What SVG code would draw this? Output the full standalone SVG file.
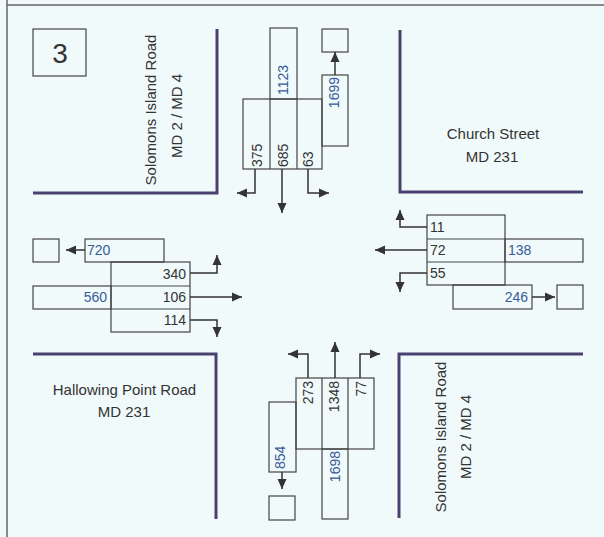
<svg xmlns="http://www.w3.org/2000/svg" width="604" height="537" viewBox="0 0 604 537">
<defs>
<style>
.bx{fill:none;stroke:#444;stroke-width:1.2}
.rd{fill:none;stroke:#4a4070;stroke-width:3}
.ar{fill:none;stroke:#333;stroke-width:1.5;marker-end:url(#ah)}
.t{font-family:"Liberation Sans",Arial,sans-serif;font-size:14px;fill:#333}
.b{fill:#3a5a9c}
.lb{font-family:"Liberation Sans",Arial,sans-serif;font-size:15px;fill:#333;text-anchor:middle}
.e{text-anchor:end}
</style>
<marker id="ah" markerUnits="userSpaceOnUse" markerWidth="10" markerHeight="10" viewBox="0 0 10 10" refX="10" refY="5" orient="auto">
<path d="M0,0.5 L10,5 L0,9.5 z" fill="#333"/>
</marker>
</defs>
<rect width="604" height="537" fill="#f0fafa"/>
<g id="frame">
<line x1="7" y1="5" x2="604" y2="5" stroke="#666" stroke-width="1.5"/>
<line x1="7" y1="0" x2="7" y2="537" stroke="#666" stroke-width="1.5"/>
</g>
<g id="number">
<rect x="33" y="29" width="53" height="47" class="bx"/>
<text x="60" y="63" font-family="Liberation Sans,Arial,sans-serif" font-size="28" fill="#333" text-anchor="middle">3</text>
</g>
<g id="roads">
<polyline class="rd" points="217,29 217,193 33,193"/>
<polyline class="rd" points="400,30 400,192 583,192"/>
<polyline class="rd" points="33,354 216,354 216,519"/>
<polyline class="rd" points="399,518 399,354 583,354"/>
</g>
<g id="labels">
<text class="lb" transform="translate(156,110) rotate(-90)">Solomons Island Road</text>
<text class="lb" transform="translate(182,116) rotate(-90)">MD 2 / MD 4</text>
<text class="lb" x="493" y="139">Church Street</text>
<text class="lb" x="492" y="162">MD 231</text>
<text class="lb" x="124.5" y="395">Hallowing Point Road</text>
<text class="lb" x="124" y="417">MD 231</text>
<text class="lb" transform="translate(446,437) rotate(-90)">Solomons Island Road</text>
<text class="lb" transform="translate(471,437) rotate(-90)">MD 2 / MD 4</text>
</g>
<g id="north">
<rect x="270" y="28" width="27" height="71" class="bx"/>
<rect x="243" y="99" width="79" height="70" class="bx"/>
<line x1="270" y1="99" x2="270" y2="169" class="bx"/>
<line x1="297" y1="99" x2="297" y2="169" class="bx"/>
<rect x="322" y="75" width="26" height="71" class="bx"/>
<rect x="322" y="29" width="26" height="23" class="bx"/>
<text class="t b" transform="translate(288,95) rotate(-90)">1123</text>
<text class="t b e" transform="translate(339,77) rotate(-90)">1699</text>
<text class="t" transform="translate(262,167) rotate(-90)">375</text>
<text class="t" transform="translate(288,167) rotate(-90)">685</text>
<text class="t" transform="translate(313,167) rotate(-90)">63</text>
</g>
<g id="west">
<rect x="85" y="239" width="79" height="23" class="bx"/>
<rect x="33" y="239" width="26" height="23" class="bx"/>
<rect x="111" y="262" width="79" height="70" class="bx"/>
<line x1="111" y1="286" x2="190" y2="286" class="bx"/>
<line x1="111" y1="309" x2="190" y2="309" class="bx"/>
<rect x="33" y="286" width="78" height="23" class="bx"/>
<text class="t b" x="87" y="255">720</text>
<text class="t e" x="186" y="279">340</text>
<text class="t b e" x="107" y="302">560</text>
<text class="t e" x="186" y="302">106</text>
<text class="t e" x="186" y="325">114</text>
</g>
<g id="east">
<rect x="427" y="215" width="78" height="70" class="bx"/>
<line x1="427" y1="239" x2="505" y2="239" class="bx"/>
<line x1="427" y1="262" x2="505" y2="262" class="bx"/>
<rect x="505" y="239" width="78" height="23" class="bx"/>
<rect x="453" y="285" width="79" height="24" class="bx"/>
<rect x="557" y="285" width="26" height="24" class="bx"/>
<text class="t" x="430" y="232">11</text>
<text class="t" x="430" y="255">72</text>
<text class="t" x="430" y="278">55</text>
<text class="t b" x="508" y="255">138</text>
<text class="t b e" x="528" y="302">246</text>
</g>
<g id="south">
<rect x="296" y="378" width="78" height="71" class="bx"/>
<line x1="322" y1="378" x2="322" y2="449" class="bx"/>
<line x1="348" y1="378" x2="348" y2="449" class="bx"/>
<rect x="269" y="402" width="27" height="70" class="bx"/>
<rect x="322" y="449" width="26" height="70" class="bx"/>
<rect x="269" y="496" width="26" height="24" class="bx"/>
<text class="t e" transform="translate(313,381) rotate(-90)">273</text>
<text class="t e" transform="translate(339,381) rotate(-90)">1348</text>
<text class="t e" transform="translate(366,381) rotate(-90)">77</text>
<text class="t b" transform="translate(285,469) rotate(-90)">854</text>
<text class="t b e" transform="translate(340,451) rotate(-90)">1698</text>
</g>
<g id="connectors">
<path class="ar" d="M255,169 V193 H237"/>
<path class="ar" d="M282,169 V213"/>
<path class="ar" d="M308,169 V193 H329"/>
<path class="ar" d="M335,75 V52"/>
<path class="ar" d="M85,250 H66"/>
<path class="ar" d="M190,273 H217 V255"/>
<path class="ar" d="M190,297 H242"/>
<path class="ar" d="M190,320 H217 V337"/>
<path class="ar" d="M427,227 H400 V210"/>
<path class="ar" d="M427,250 H375"/>
<path class="ar" d="M427,273 H400 V292"/>
<path class="ar" d="M532,297 H555"/>
<path class="ar" d="M308,378 V354 H288"/>
<path class="ar" d="M335,378 V342"/>
<path class="ar" d="M360,378 V354 H380"/>
<path class="ar" d="M282,472 V489"/>
</g>
</svg>
